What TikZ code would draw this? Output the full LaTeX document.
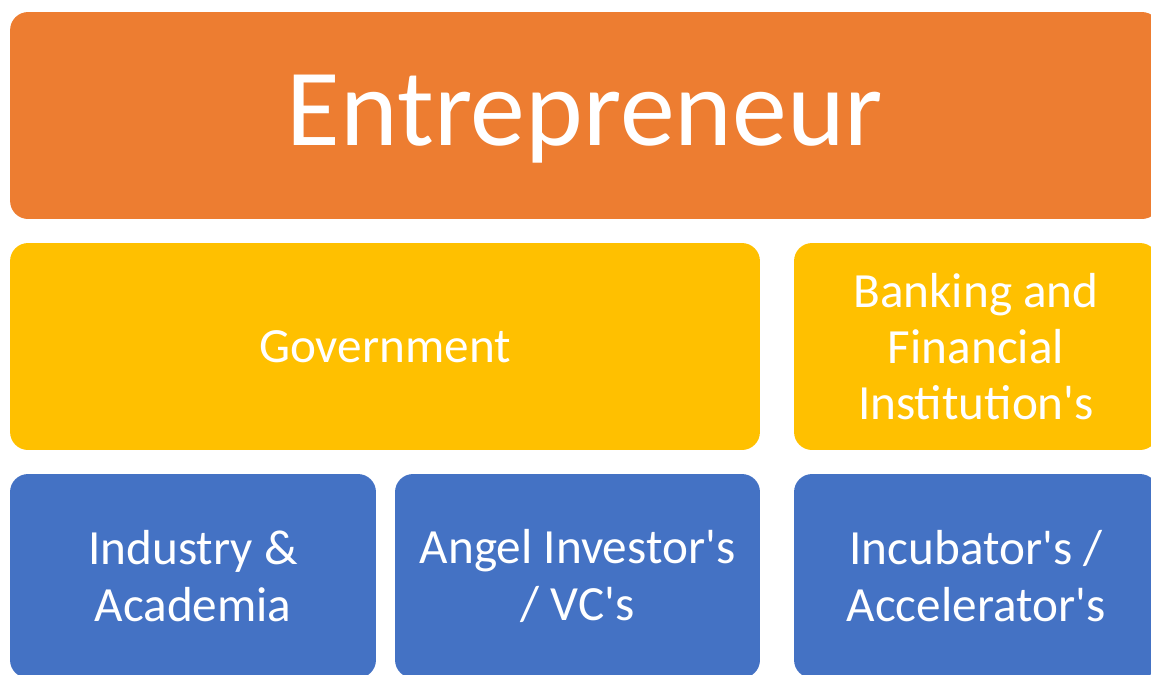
\documentclass[tikz,border=0pt]{standalone}
\usepackage{fontspec}
\setmainfont{Carlito}
\usepackage{xcolor}
\usepackage{tikz}
\usetikzlibrary{shapes,positioning}

\definecolor{entorange}{HTML}{ED7D31}
\definecolor{govyellow}{HTML}{FFC000}
\definecolor{supblue}{HTML}{4472C4}

\begin{document}
\begin{tikzpicture}[x=0.02cm, y=-0.02cm]
    % Define styles
    \tikzstyle{tile} = [rectangle, rounded corners=0.36cm, inner sep=0pt, text centered, align=center, text=white, font=\fontsize{28}{32}\selectfont]
    \tikzstyle{head} = [tile, fill=entorange, minimum width=23cm, minimum height=4.14cm, font=\fontsize{62.5}{72}\selectfont, text height=47pt, text depth=12.5pt]
    \tikzstyle{middle} = [tile, fill=govyellow, minimum height=4.14cm]
    \tikzstyle{bottom} = [tile, fill=supblue, minimum height=4.08cm]

    \useasboundingbox (0,0) rectangle (1151,674);
    \clip (0,0) rectangle (1151,674);

    % Nodes
    \node[head] (entrepreneur) at (585,115.5) {Entrepreneur};
    \node[middle, minimum width=15cm] (government) at (385,346.5) {Government};
    \node[middle, minimum width=7.28cm] (banking) at (976,346.5) {Banking and\\Financial\\Institution\textquotesingle s};
    \node[bottom, minimum width=7.32cm] (industry) at (193,576) {Industry \&\\Academia};
    \node[bottom, minimum width=7.3cm] (angel) at (577.5,576) {Angel Investor\textquotesingle s\\/ VC\textquotesingle s};
    \node[bottom, minimum width=7.28cm] (incubator) at (976,576) {Incubator\textquotesingle s /\\Accelerator\textquotesingle s};
\end{tikzpicture}
\end{document}
